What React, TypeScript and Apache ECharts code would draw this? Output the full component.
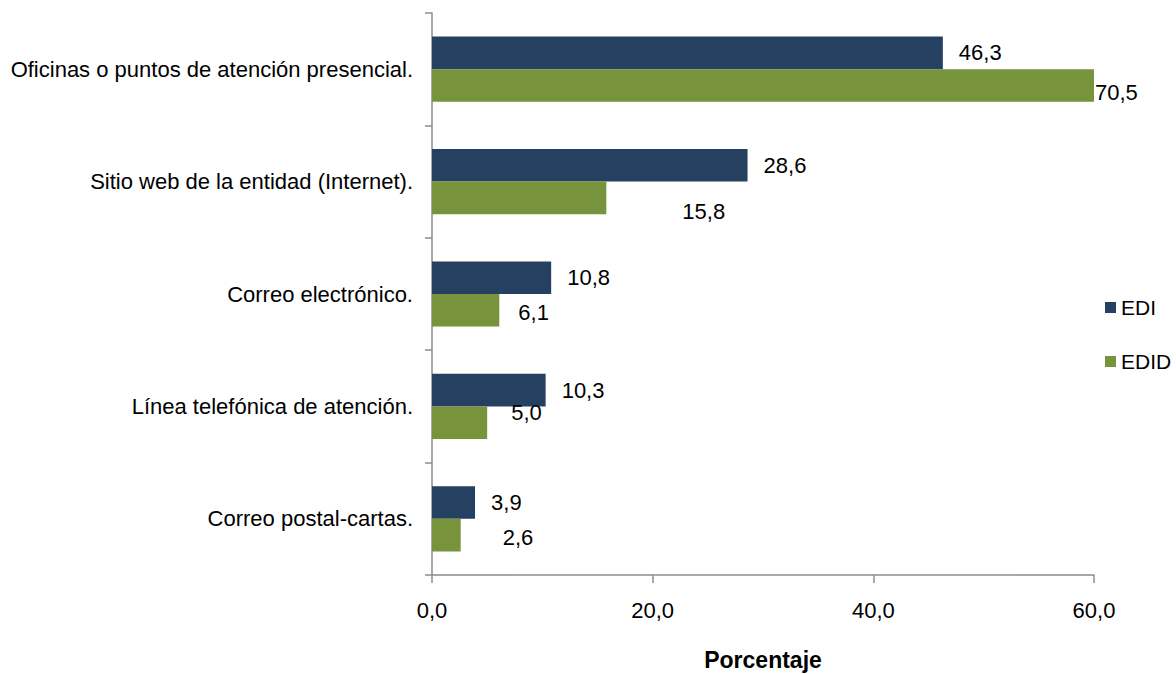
import React, { useEffect, useRef } from "react";
import * as echarts from "echarts";

const categories = [
  "Oficinas o puntos de atención presencial.",
  "Sitio web de la entidad (Internet).",
  "Correo electrónico.",
  "Línea telefónica de atención.",
  "Correo postal-cartas.",
];
const ediValues = [46.3, 28.6, 10.8, 10.3, 3.9];
const edidValues = [70.5, 15.8, 6.1, 5.0, 2.6];
const seriesNames = ["EDI", "EDID"];
const axisTitle = "Porcentaje";

// label nudges (style only) for the EDID series, mimicking the original placement
const edidLabelOffsets = [
  [-4, 7],
  [71, 14],
  [14, 2],
  [19, -10],
  [37, 2],
];

const FONT = "'Liberation Sans Narrow', 'Arial Narrow', 'Liberation Sans', Arial, sans-serif";
const fmt = (v: number) => v.toFixed(1).replace(".", ",");

export default function App() {
  const ref = useRef<HTMLDivElement>(null);
  useEffect(() => {
    if (!ref.current) return;
    const chart = echarts.init(ref.current, undefined, { renderer: "svg" });
    chart.setOption({
      animation: false,
      backgroundColor: "#ffffff",
      textStyle: { fontFamily: FONT },
      grid: {
        left: 432,
        right: 82,
        top: 13,
        bottom: 99,
        containLabel: false,
        outerBoundsMode: "none",
      },
      legend: {
        orient: "vertical",
        left: 1100,
        top: 292,
        itemWidth: 11,
        itemHeight: 11,
        itemGap: 33,
        icon: "rect",
        textStyle: { fontFamily: FONT, fontSize: 21, color: "#000" },
        data: seriesNames,
      },
      xAxis: {
        type: "value",
        min: 0,
        max: 60,
        interval: 20,
        name: axisTitle,
        nameLocation: "middle",
        nameGap: 73,
        nameTextStyle: { fontFamily: FONT, fontSize: 23, fontWeight: "bold", color: "#000" },
        axisLine: { show: true, lineStyle: { color: "#8c8c8c", width: 1.5 } },
        axisTick: { show: true, length: 8, lineStyle: { color: "#8c8c8c", width: 1.5 } },
        splitLine: { show: false },
        axisLabel: {
          margin: 24,
          fontFamily: FONT,
          fontSize: 22,
          color: "#000",
          formatter: (v: number) => fmt(v),
        },
      },
      yAxis: {
        type: "category",
        inverse: true,
        data: categories,
        axisLine: { show: true, lineStyle: { color: "#8c8c8c", width: 1.5 } },
        axisTick: { show: true, length: 7, lineStyle: { color: "#8c8c8c", width: 1.5 } },
        axisLabel: { margin: 19, fontFamily: FONT, fontSize: 22, color: "#000" },
      },
      series: [
        {
          name: seriesNames[0],
          type: "bar",
          data: ediValues,
          barGap: "0%",
          barCategoryGap: "42%",
          itemStyle: { color: "#254061" },
          label: {
            show: true,
            position: "right",
            distance: 16,
            fontFamily: FONT,
            fontSize: 22,
            color: "#000",
            formatter: (p: any) => fmt(p.value),
          },
        },
        {
          name: seriesNames[1],
          type: "bar",
          barGap: "0%",
          barCategoryGap: "42%",
          itemStyle: { color: "#77933C" },
          data: edidValues.map((v, i) => ({
            value: v,
            label: { offset: edidLabelOffsets[i] },
          })),
          label: {
            show: true,
            position: "right",
            distance: 5,
            fontFamily: FONT,
            fontSize: 22,
            color: "#000",
            formatter: (p: any) => fmt(p.value),
          },
        },
      ],
    });
    return () => chart.dispose();
  }, []);
  return (
    <div
      ref={ref}
      style={{ position: "fixed", left: 0, top: 0, width: 1176, height: 674 }}
    />
  );
}
